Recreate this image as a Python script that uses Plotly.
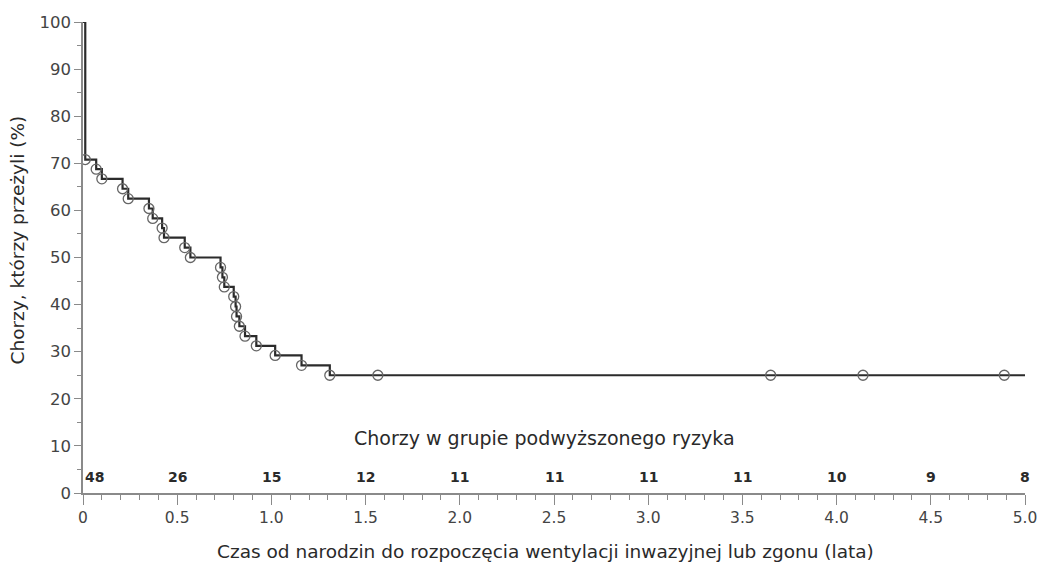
import plotly.graph_objects as go

# Kaplan-Meier step data (time in years, survival %)
event_times = [0.0, 0.012, 0.07, 0.10, 0.21, 0.24, 0.35, 0.37, 0.42, 0.43,
               0.54, 0.57, 0.73, 0.74, 0.75, 0.80, 0.81, 0.815, 0.83, 0.86, 0.92,
               1.02, 1.16, 1.31, 5.0]
survival = [100.0, 70.8, 68.75, 66.7, 64.6, 62.5, 60.4, 58.3, 56.25, 54.2,
            52.1, 50.0, 47.9, 45.8, 43.75, 41.7, 39.6, 37.5, 35.4, 33.3, 31.25,
            29.2, 27.1, 25.0, 25.0]

# Circle markers (events and censored observations)
marker_times = [0.012, 0.07, 0.10, 0.21, 0.24, 0.35, 0.37, 0.42, 0.43,
                0.54, 0.57, 0.73, 0.74, 0.75, 0.80, 0.81, 0.815, 0.83, 0.86, 0.92,
                1.02, 1.16, 1.31, 1.565, 3.65, 4.14, 4.89]
marker_surv = [70.8, 68.75, 66.7, 64.6, 62.5, 60.4, 58.3, 56.25, 54.2,
               52.1, 50.0, 47.9, 45.8, 43.75, 41.7, 39.6, 37.5, 35.4, 33.3, 31.25,
               29.2, 27.1, 25.0, 25.0, 25.0, 25.0, 25.0]

# Number at risk
risk_times = [0, 0.5, 1.0, 1.5, 2.0, 2.5, 3.0, 3.5, 4.0, 4.5, 5.0]
risk_counts = [48, 26, 15, 12, 11, 11, 11, 11, 10, 9, 8]

x_tickvals = [0, 0.5, 1.0, 1.5, 2.0, 2.5, 3.0, 3.5, 4.0, 4.5, 5.0]
x_ticktext = ["0", "0.5", "1.0", "1.5", "2.0", "2.5", "3.0", "3.5", "4.0", "4.5", "5.0"]
y_tickvals = [0, 10, 20, 30, 40, 50, 60, 70, 80, 90, 100]

FONT = "DejaVu Sans, Liberation Sans, Arial, sans-serif"
TXT = "#3a3a3a"
AX = "#8a8a8a"

fig = go.Figure()
fig.add_trace(go.Scatter(
    x=event_times, y=survival, mode="lines", line_shape="hv",
    line=dict(color="#2b2b2b", width=2.2), hoverinfo="skip", showlegend=False))
fig.add_trace(go.Scatter(
    x=marker_times, y=marker_surv, mode="markers",
    marker=dict(symbol="circle-open", size=10, color="#666666", line=dict(width=1.3)),
    showlegend=False))

for i, (t, n) in enumerate(zip(risk_times, risk_counts)):
    fig.add_annotation(x=t, y=3.4, text=f"<b>{n}</b>", showarrow=False,
                       xanchor="left" if i == 0 else "center", yanchor="middle",
                       font=dict(family=FONT, size=14, color="#2a2a2a"))

fig.add_annotation(x=2.45, y=11.7, text="Chorzy w grupie podwyższonego ryzyka",
                   showarrow=False, xanchor="center", yanchor="middle",
                   font=dict(family=FONT, size=19, color="#2a2a2a"))

# Axis titles as annotations for exact placement
fig.add_annotation(xref="paper", yref="paper", x=0.5, y=0, yshift=-58, xshift=-9,
                   text="Czas od narodzin do rozpoczęcia wentylacji inwazyjnej lub zgonu (lata)",
                   showarrow=False, xanchor="center", yanchor="middle",
                   font=dict(family=FONT, size=18.5, color="#2a2a2a"))
fig.add_annotation(xref="paper", yref="paper", x=0, y=0.5, xshift=-66, yshift=17,
                   text="Chorzy, którzy przeżyli (%)", textangle=-90,
                   showarrow=False, xanchor="center", yanchor="middle",
                   font=dict(family=FONT, size=18.5, color="#2a2a2a"))

fig.update_layout(
    width=1038, height=562,
    margin=dict(l=83, r=13, t=22, b=69, autoexpand=False),
    plot_bgcolor="white", paper_bgcolor="white",
    font=dict(family=FONT, size=15, color=TXT),
    xaxis=dict(range=[0, 5.0], tickvals=x_tickvals, ticktext=x_ticktext, automargin=False,
               showgrid=False, zeroline=False, showline=True, linecolor=AX, linewidth=1.5,
               ticks="outside", ticklen=10, tickcolor=AX, tickwidth=1.3,
               minor=dict(dtick=0.1, tick0=0, ticks="outside", ticklen=5, tickcolor=AX, tickwidth=1),
               tickfont=dict(family=FONT, size=15.5, color="#444")),
    yaxis=dict(range=[0, 100], tickvals=y_tickvals, automargin=False,
               showgrid=False, zeroline=False, showline=True, linecolor=AX, linewidth=1.5,
               ticks="outside", ticklen=7, tickcolor=AX, tickwidth=1.3,
               minor=dict(dtick=5, tick0=0, ticks="outside", ticklen=4, tickcolor=AX, tickwidth=1),
               tickfont=dict(family=FONT, size=16.5, color="#444")),
)

fig.write_html("out.html")
